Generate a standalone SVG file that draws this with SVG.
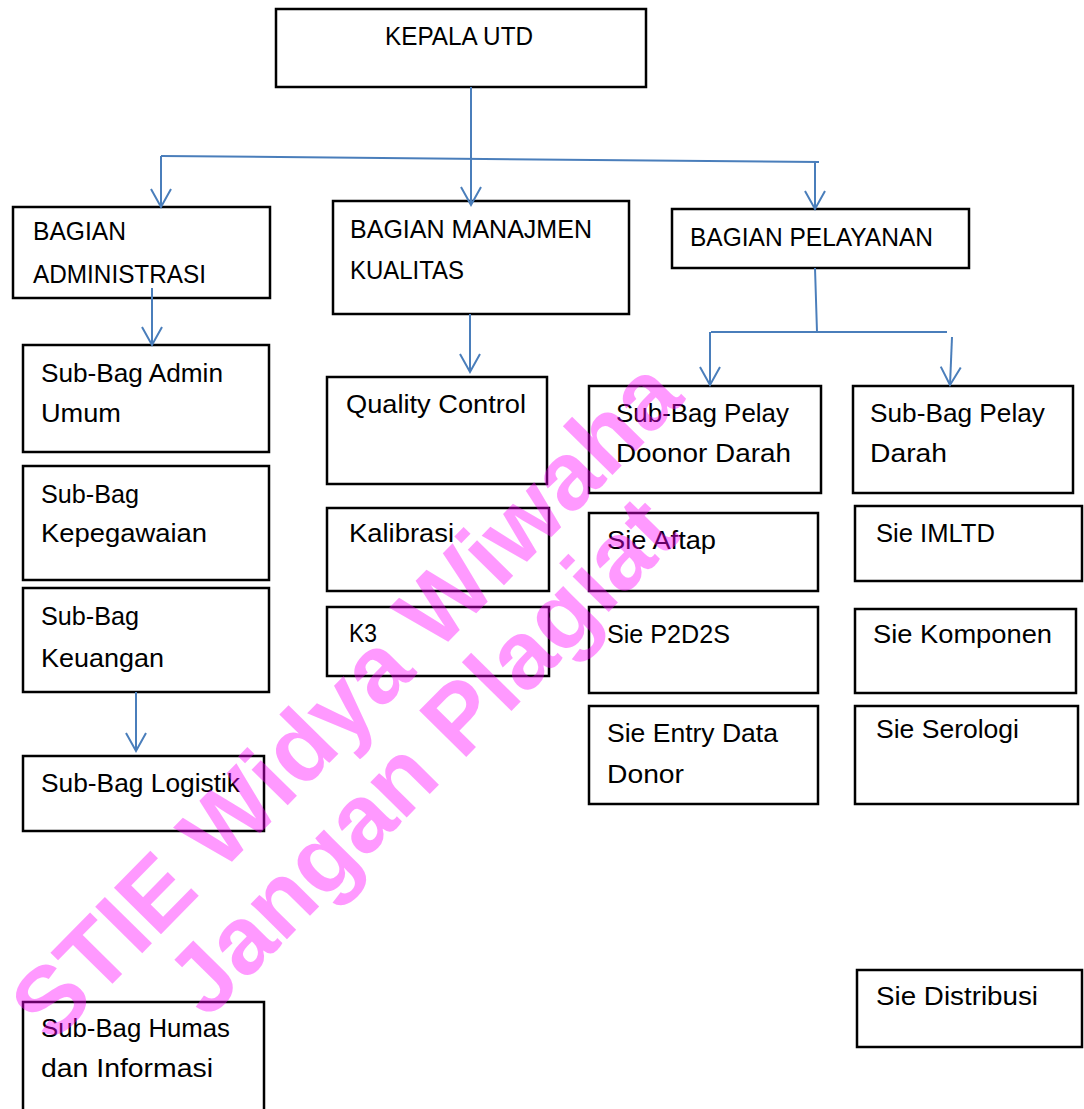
<svg xmlns="http://www.w3.org/2000/svg" width="1084" height="1109" viewBox="0 0 1084 1109">
<style>
.box{fill:#fff;stroke:#000;stroke-width:2.5}
.t{font-family:"Liberation Sans",Arial,sans-serif;font-size:25px;fill:#000}
.c{fill:none;stroke:#4a7ebb;stroke-width:2}
.wm{font-family:"Liberation Sans",Arial,sans-serif;font-weight:bold;font-size:96px;fill:#ff00ff;fill-opacity:0.4}
</style>
<defs>
<marker id="ah" markerUnits="userSpaceOnUse" markerWidth="40" markerHeight="40" refX="0" refY="0" orient="auto" overflow="visible">
<path d="M-18,-10 L0,0 L-18,10" fill="none" stroke="#4a7ebb" stroke-width="2"/>
</marker>
</defs>
<rect width="1084" height="1109" fill="#fff"/>
<g id="kepala"><rect class="box" x="276" y="9" width="370" height="78"/><text class="t" x="385" y="45" textLength="148" lengthAdjust="spacingAndGlyphs">KEPALA UTD</text></g>
<g id="bagian-admin"><rect class="box" x="13" y="207" width="257" height="91"/><text class="t" x="33" y="240" textLength="93" lengthAdjust="spacingAndGlyphs">BAGIAN</text><text class="t" x="33" y="283" textLength="173" lengthAdjust="spacingAndGlyphs">ADMINISTRASI</text></g>
<g id="bagian-manajmen"><rect class="box" x="333" y="201" width="296" height="113"/><text class="t" x="350" y="238" textLength="242" lengthAdjust="spacingAndGlyphs">BAGIAN MANAJMEN</text><text class="t" x="350" y="279" textLength="114" lengthAdjust="spacingAndGlyphs">KUALITAS</text></g>
<g id="bagian-pelayanan"><rect class="box" x="672" y="209" width="297" height="59"/><text class="t" x="690" y="246" textLength="243" lengthAdjust="spacingAndGlyphs">BAGIAN PELAYANAN</text></g>
<g id="admin-umum"><rect class="box" x="23" y="345" width="246" height="107"/><text class="t" x="41" y="382" textLength="182" lengthAdjust="spacingAndGlyphs">Sub-Bag Admin</text><text class="t" x="41" y="422" textLength="80" lengthAdjust="spacingAndGlyphs">Umum</text></g>
<g id="kepegawaian"><rect class="box" x="23" y="466" width="246" height="114"/><text class="t" x="41" y="503" textLength="98" lengthAdjust="spacingAndGlyphs">Sub-Bag</text><text class="t" x="41" y="542" textLength="166" lengthAdjust="spacingAndGlyphs">Kepegawaian</text></g>
<g id="keuangan"><rect class="box" x="23" y="588" width="246" height="104"/><text class="t" x="41" y="625" textLength="98" lengthAdjust="spacingAndGlyphs">Sub-Bag</text><text class="t" x="41" y="667" textLength="123" lengthAdjust="spacingAndGlyphs">Keuangan</text></g>
<g id="logistik"><rect class="box" x="23" y="756" width="241" height="75"/><text class="t" x="41" y="792" textLength="199" lengthAdjust="spacingAndGlyphs">Sub-Bag Logistik</text></g>
<g id="humas"><rect class="box" x="23" y="1002" width="241" height="120"/><text class="t" x="41" y="1037" textLength="189" lengthAdjust="spacingAndGlyphs">Sub-Bag Humas</text><text class="t" x="41" y="1077" textLength="172" lengthAdjust="spacingAndGlyphs">dan Informasi</text></g>
<g id="quality-control"><rect class="box" x="327" y="377" width="220" height="107"/><text class="t" x="346" y="413" textLength="180" lengthAdjust="spacingAndGlyphs">Quality Control</text></g>
<g id="kalibrasi"><rect class="box" x="327" y="508" width="222" height="83"/><text class="t" x="349" y="542" textLength="105" lengthAdjust="spacingAndGlyphs">Kalibrasi</text></g>
<g id="k3"><rect class="box" x="327" y="607" width="222" height="69"/><text class="t" x="349" y="642" textLength="28" lengthAdjust="spacingAndGlyphs">K3</text></g>
<g id="pelay-donor"><rect class="box" x="589" y="386" width="232" height="107"/><text class="t" x="616" y="422" textLength="173" lengthAdjust="spacingAndGlyphs">Sub-Bag Pelay</text><text class="t" x="616" y="462" textLength="175" lengthAdjust="spacingAndGlyphs">Doonor Darah</text></g>
<g id="pelay-darah"><rect class="box" x="853" y="386" width="220" height="107"/><text class="t" x="870" y="422" textLength="175" lengthAdjust="spacingAndGlyphs">Sub-Bag Pelay</text><text class="t" x="870" y="462" textLength="77" lengthAdjust="spacingAndGlyphs">Darah</text></g>
<g id="aftap"><rect class="box" x="589" y="513" width="229" height="78"/><text class="t" x="607" y="549" textLength="109" lengthAdjust="spacingAndGlyphs">Sie Aftap</text></g>
<g id="imltd"><rect class="box" x="855" y="506" width="227" height="75"/><text class="t" x="876" y="542" textLength="119" lengthAdjust="spacingAndGlyphs">Sie IMLTD</text></g>
<g id="p2d2s"><rect class="box" x="589" y="607" width="229" height="86"/><text class="t" x="607" y="643" textLength="123" lengthAdjust="spacingAndGlyphs">Sie P2D2S</text></g>
<g id="komponen"><rect class="box" x="855" y="609" width="221" height="84"/><text class="t" x="873" y="643" textLength="179" lengthAdjust="spacingAndGlyphs">Sie Komponen</text></g>
<g id="entry-data"><rect class="box" x="589" y="706" width="229" height="98"/><text class="t" x="607" y="742" textLength="171" lengthAdjust="spacingAndGlyphs">Sie Entry Data</text><text class="t" x="607" y="783" textLength="77" lengthAdjust="spacingAndGlyphs">Donor</text></g>
<g id="serologi"><rect class="box" x="855" y="706" width="223" height="98"/><text class="t" x="876" y="738" textLength="143" lengthAdjust="spacingAndGlyphs">Sie Serologi</text></g>
<g id="distribusi"><rect class="box" x="857" y="970" width="225" height="77"/><text class="t" x="876" y="1005" textLength="162" lengthAdjust="spacingAndGlyphs">Sie Distribusi</text></g>
<g id="connectors">
<path class="c" d="M471,87 L471,205" marker-end="url(#ah)"/>
<path class="c" d="M161,156 L819,162" stroke-width="3"/>
<path class="c" d="M161,156 L161,207" marker-end="url(#ah)"/>
<path class="c" d="M815,162 L815,209" marker-end="url(#ah)"/>
<path class="c" d="M152,288 L152,345" marker-end="url(#ah)"/>
<path class="c" d="M470,314 L470,372" marker-end="url(#ah)"/>
<path class="c" d="M136,692 L136,751" marker-end="url(#ah)"/>
<path class="c" d="M815,268 L817,332"/>
<path class="c" d="M711,332 L947,332" stroke-width="3"/>
<path class="c" d="M710,332 L710,385" marker-end="url(#ah)"/>
<path class="c" d="M952,337 L950,385" marker-end="url(#ah)"/>
</g>
<g id="watermark">
<text class="wm" text-anchor="middle" transform="translate(344,698) rotate(-45.5)" y="35">STIE Widya Wiwaha</text>
<text class="wm" text-anchor="middle" transform="translate(420,754) rotate(-45.5)" y="35">Jangan Plagiat</text>
</g>
</svg>
